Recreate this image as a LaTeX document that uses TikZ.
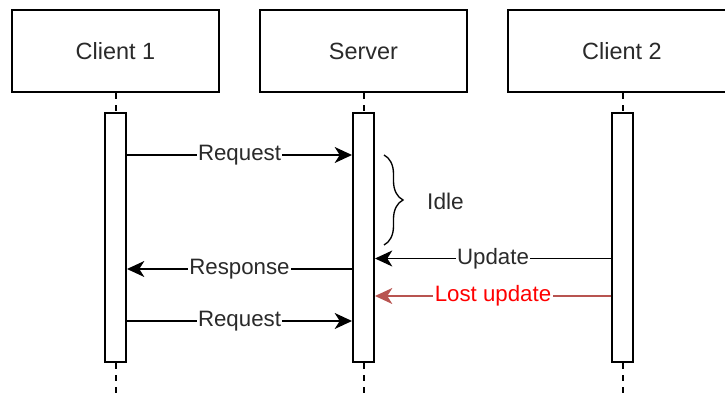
\documentclass[tikz,border=0pt]{standalone}
\usepackage{fontspec}
\setmainfont{Liberation Sans}
\usetikzlibrary{arrows.meta,decorations.pathreplacing}
\definecolor{lostline}{HTML}{B85450}
\definecolor{lostred}{HTML}{FF0000}
\definecolor{txt}{HTML}{2A2A2A}
\begin{document}
\begin{tikzpicture}[x=0.75pt,y=-0.75pt,
  head/.style={draw,line width=1.5pt,fill=white,minimum height=61.5pt,
    inner sep=0pt,text=txt,font=\fontsize{17.6}{21}\selectfont},
  actbox/.style={draw,line width=1.5pt,fill=white,minimum width=15.75pt,
    minimum height=186.75pt,inner sep=0pt},
  life/.style={line width=1.5pt,dash pattern=on 4.5pt off 4.5pt},
  msg/.style={line width=1pt,-{Stealth[length=13pt,width=12pt,inset=3.8pt]}},
  lostmsg/.style={msg,draw=lostline,-{Stealth[length=13pt,width=12pt,inset=3.8pt,fill=lostline]}},
  lbl/.style={fill=white,inner xsep=1pt,inner ysep=0pt,text=txt,
    font=\fontsize{16.7}{20}\selectfont},
  bracestyle/.style={line width=1pt,decorate,decoration={brace,amplitude=14.25pt}}]
\useasboundingbox (0,0) rectangle (725,399);
\clip (0,0) rectangle (725,399);

% participant headers
\node[head,minimum width=155.25pt] (h1) at (115.5,51.5) {Client 1};
\node[head,minimum width=155.25pt] (h2) at (363.5,51.5) {Server};
\node[head,minimum width=171pt] (h3) at (622,51.5) {Client 2};

% activation bars
\node[actbox] (a1) at (115.5,237.5) {};
\node[actbox] (a2) at (363.5,237.5) {};
\node[actbox] (a3) at (622.5,237.5) {};

% lifelines
\coordinate (bottom) at (0,399);
\draw[life] (h1.south) -- (a1.north);
\draw[life] (h2.south) -- (a2.north);
\draw[life] (h3.south -| a3.north) -- (a3.north);
\draw[life] (a1.south) -- (a1.south |- bottom);
\draw[life] (a2.south) -- (a2.south |- bottom);
\draw[life] (a3.south) -- (a3.south |- bottom);

% message rows
\coordinate (m1) at (0,155);
\coordinate (m2) at (0,258.5);
\coordinate (m3) at (0,269);
\coordinate (m4) at (0,296);
\coordinate (m5) at (0,321);

\draw[msg] (a1.east |- m1) -- (a2.west |- m1) node[lbl,midway] {Request};
\draw[msg] (a3.west |- m2) -- (a2.east |- m2) node[lbl,midway] {Update};
\draw[msg] (a2.west |- m3) -- (a1.east |- m3) node[lbl,midway] {Response};
\draw[lostmsg] (a3.west |- m4) -- (a2.east |- m4)
  node[lbl,midway,text=lostred] {Lost update};
\draw[msg] (a1.east |- m5) -- (a2.west |- m5) node[lbl,midway] {Request};

% idle period
\coordinate (bt) at (384,155);
\coordinate (bb) at (384,245);
\draw[bracestyle] (bt) -- (bb);
\node[text=txt,font=\fontsize{17}{20}\selectfont] (idle) at (445.5,201) {Idle};
\end{tikzpicture}
\end{document}
